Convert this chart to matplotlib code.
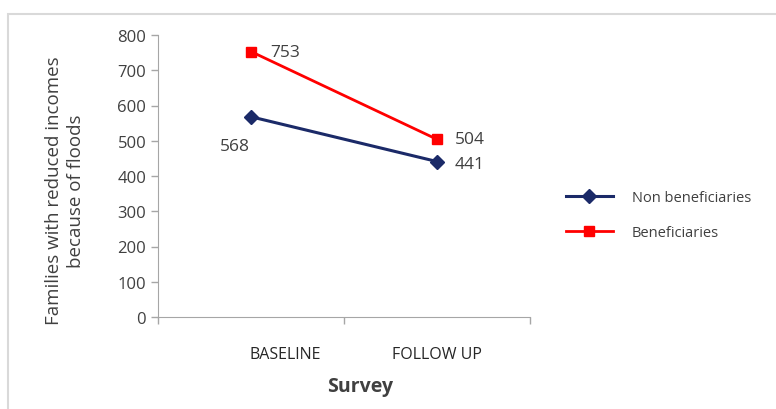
import matplotlib.pyplot as plt
from matplotlib.patches import Rectangle
from matplotlib.lines import Line2D
import matplotlib.transforms as mtransforms

plt.rcParams["font.family"] = ["Open Sans", "DejaVu Sans"]

surveys = ["BASELINE", "FOLLOW UP"]
non_beneficiaries = [568, 441]
beneficiaries = [753, 504]

TEXT = "#404040"
NAVY = "#1B2A68"
RED = "#FF0000"
SPINE = "#A6A6A6"

fig = plt.figure(figsize=(7.76, 4.10), dpi=100)

# light chart-area frame
fig.patches.append(Rectangle((8 / 776, -0.05), 1.0, 1 - 15 / 410 + 0.05,
                             transform=fig.transFigure, fill=False,
                             ec="#D9D9D9", lw=1.5))

ax = fig.add_axes([158 / 776, 1 - 318 / 410, 372 / 776, 282 / 410])
x = list(range(len(surveys)))

ax.plot(x, non_beneficiaries, color=NAVY, lw=2.2, marker="D", ms=7,
        label="Non beneficiaries", zorder=3)
ax.plot(x, beneficiaries, color=RED, lw=2.0, marker="s", ms=7,
        label="Beneficiaries", zorder=3)

# value labels
lab_kw = dict(textcoords="offset points", va="center", fontsize=12.5, color=TEXT)
ax.annotate(f"{beneficiaries[0]}", (x[0], beneficiaries[0]), xytext=(14, 0), **lab_kw)
ax.annotate(f"{non_beneficiaries[0]}", (x[0], non_beneficiaries[0]), xytext=(-1, -21),
            ha="right", **lab_kw)
ax.annotate(f"{beneficiaries[1]}", (x[1], beneficiaries[1]), xytext=(13, 0), **lab_kw)
ax.annotate(f"{non_beneficiaries[1]}", (x[1], non_beneficiaries[1]), xytext=(13, -1.5), **lab_kw)

ax.set_xlim(-0.5, len(surveys) - 0.5)
ax.set_ylim(0, 800)
ax.set_yticks(range(0, 801, 100))
ax.tick_params(axis="y", colors=SPINE, labelcolor=TEXT, labelsize=12, length=5, width=1)

ax.set_xticks(x)
ax.set_xticklabels(surveys, fontsize=11.5, color="#262626")
ax.set_xticks([-0.5, 0.5, 1.5], minor=True)
ax.tick_params(axis="x", which="major", length=0, pad=21)
ax.tick_params(axis="x", which="minor", length=5, width=1, colors=SPINE)
shift = mtransforms.ScaledTranslation(34 / 100, 0, fig.dpi_scale_trans)
lab = ax.get_xticklabels()[0]
lab.set_transform(lab.get_transform() + shift)

for side in ("top", "right"):
    ax.spines[side].set_visible(False)
for side in ("left", "bottom"):
    ax.spines[side].set_color(SPINE)

ax.set_xlabel("Survey", fontsize=14, fontweight="bold", color=TEXT)
ax.xaxis.set_label_coords(0.543, -0.21)
ax.set_ylabel("Families with reduced incomes\nbecause of floods", fontsize=13.5,
              color=TEXT, linespacing=1.3)
ax.yaxis.set_label_coords(-0.196, 0.45)

handles = [Line2D([], [], color=NAVY, lw=2.2, marker="D", ms=7),
           Line2D([], [], color=RED, lw=2.0, marker="s", ms=7)]
fig.legend(handles, ["Non beneficiaries", "Beneficiaries"], loc="center left",
           bbox_to_anchor=(553 / 776, 1 - 216 / 410), frameon=False, fontsize=10.5,
           labelcolor=TEXT, handlelength=3.2, handletextpad=1.3, labelspacing=1.35)

fig.savefig("out.png", dpi=100)
